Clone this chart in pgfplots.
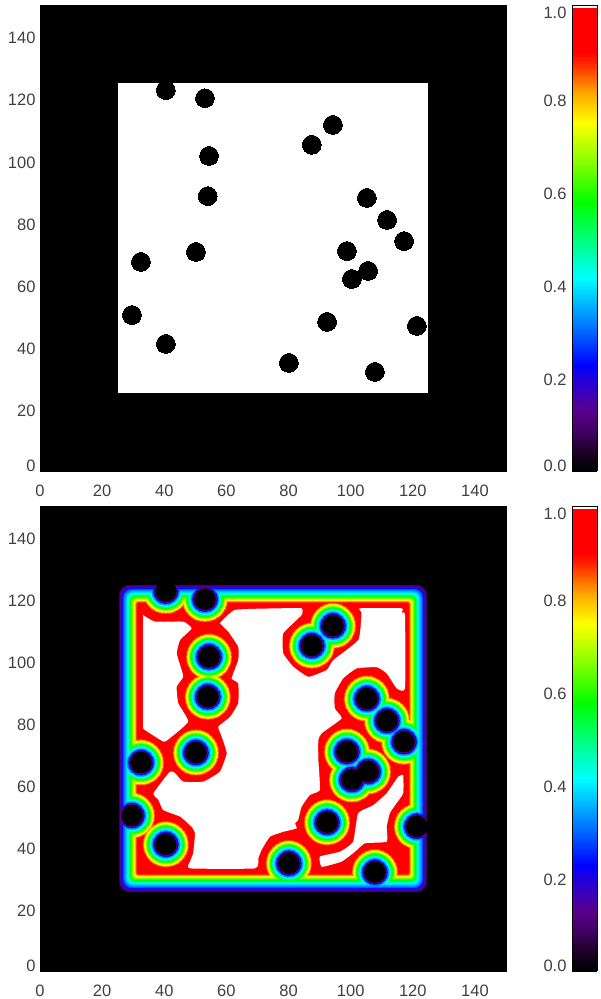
\documentclass[border=0pt]{standalone}
\usepackage{fontspec}
\setmainfont{Liberation Sans}
\usepackage{pgfplots}
\usepackage{pgfplotstable}
\pgfplotsset{compat=1.18}
\pgfplotstableread{
x y
40.5 122.6
53.1 120.0
54.4 101.4
54.0 88.5
94.3 111.4
87.5 105.0
105.2 87.9
111.7 80.8
117.2 74.0
98.8 70.8
50.2 70.5
32.5 67.3
105.6 64.4
100.4 61.8
29.6 50.2
92.4 48.0
121.3 46.7
40.5 40.9
80.1 34.8
107.8 31.9
}\blobs
\newcommand{\band}[5]{%
 \pgfmathsetmacro\lo{25+#5-1}\pgfmathsetmacro\hi{125-#5+1}%
 \pgfmathsetmacro\rc{(max(0.1,3.5-0.5*#5)+1)*3.107}%
 \pgfmathsetmacro\ms{#4*3.107}%
 \edef\tmp{\noexpand\addplot[draw={rgb,255:red,#1;green,#2;blue,#3},line width=6.2pt,line cap=rect,rounded corners=\rc pt,no markers,forget plot] coordinates {(75,\lo)(\hi,\lo)(\hi,\hi)(\lo,\hi)(\lo,\lo)(75,\lo)};
 \noexpand\addplot[only marks,mark=*,mark size=\ms pt,mark options={line width=0pt,draw={rgb,255:red,#1;green,#2;blue,#3},fill={rgb,255:red,#1;green,#2;blue,#3}},forget plot] table {\noexpand\blobs};}\tmp}
\pgfplotsset{
 colormap={idl}{rgb255(0)=(0,0,0) rgb255(40)=(25,0,35) rgb255(80)=(60,0,90) rgb255(130)=(90,0,140) rgb255(180)=(50,0,200) rgb255(228)=(0,0,255) rgb255(320)=(0,130,255) rgb255(415)=(0,255,255) rgb255(500)=(0,255,120) rgb255(578)=(0,255,0) rgb255(660)=(130,255,0) rgb255(748)=(255,255,0) rgb255(810)=(255,170,0) rgb255(880)=(255,30,0) rgb255(900)=(255,0,0) rgb255(993)=(255,0,0) rgb255(994)=(255,255,255) rgb255(1000)=(255,255,255)},
 panel/.style={
  scale only axis, width=466pt,
  xmin=0,xmax=150,ymin=0,ymax=150,
  axis on top,
  clip mode=individual,
  axis background/.style={fill=black},
  xtick={0,20,...,140}, ytick={0,20,...,140},
  yticklabels={\raisebox{7pt}[12pt][0pt]{0},20,40,60,80,100,120,140},
  tick style={draw=none},
  tick label style={font=\fontsize{16.5}{18}\selectfont,text=black!75},
  xticklabel style={yshift=-10pt},
  yticklabel style={xshift=-1pt,yshift=-2pt},
  /pgf/number format/assume math mode=true,
  colorbar, colorbar sampled,
  colormap name=idl,
  point meta min=0, point meta max=1,
  colorbar style={
   at={(1.1416,0)},anchor=south west,
   scale only axis,width=25pt,
   samples=200,
   ytick={0,0.2,0.4,0.6,0.8,1},
   yticklabel pos=left,
   yticklabels={\raisebox{5pt}[12pt][0pt]{0.0},\raisebox{-2pt}[12pt][0pt]{0.2},\raisebox{-2pt}[12pt][0pt]{0.4},\raisebox{-2pt}[12pt][0pt]{0.6},\raisebox{-2pt}[12pt][0pt]{0.8},\raisebox{-8pt}[12pt][0pt]{1.0}},
   tick style={draw=none},
   yticklabel style={xshift=-2pt,yshift=0pt},
   axis line style={black,line width=0.5pt},
  },
 }
}
\begin{document}
\begin{tikzpicture}[x=1pt,y=1pt]
\begin{axis}[panel,height=466pt,at={(40pt,528pt)},anchor=south west]
\addplot[fill=white,draw=none,forget plot] coordinates {(25,25)(125,25)(125,125)(25,125)} --cycle;
\addplot[only marks,mark=*,mark size=9.4pt,mark options={line width=0pt,draw=black,fill=black},forget plot] table {\blobs};
\end{axis}
\begin{axis}[panel,height=465pt,at={(40pt,28pt)},anchor=south west]
% red ground inside the window
\addplot[fill=red,draw=none,forget plot] coordinates {(29,29)(121,29)(121,121)(29,121)} --cycle;
% white plateaus where the mask reaches 1
\addplot[fill=white,draw=none,smooth,tension=0.25,forget plot] coordinates {(33.2,114.8)(37.0,112.7)(46.1,112.7)(48.8,110.5)(45.1,106.8)(44.0,102.5)(45.1,98.7)(46.1,94.9)(44.0,91.7)(44.5,86.4)(47.7,80.4)(41.3,74.7)(39.7,74.0)(33.8,77.7)(33.2,78.3)} --cycle;
\addplot[fill=white,draw=none,smooth,tension=0.25,forget plot] coordinates {(57.9,112.2)(62.8,116.5)(77.2,117.0)(84.2,117.0)(84.2,114.8)(78.3,108.9)(78.3,102.5)(81.5,98.2)(86.4,94.9)(92.3,97.1)(94.4,100.3)(102.5,106.8)(103.5,115.4)(103.0,117.0)(116.4,117.0)(116.4,115.4)(117.5,114.8)(117.5,91.2)(114.8,91.2)(111.6,96.0)(108.4,98.0)(101.9,97.6)(97.6,94.4)(94.9,89.6)(94.9,84.7)(97.1,81.5)(90.7,76.7)(89.6,74.5)(89.6,68.1)(90.1,58.4)(86.9,56.8)(84.2,53.0)(83.1,48.7)(82.1,47.6)(82.6,46.0)(78.3,44.9)(74.0,43.3)(71.3,39.0)(70.3,36.4)(69.2,33.1)(48.3,33.1)(48.3,35.3)(49.3,38.0)(49.9,44.4)(48.8,46.5)(45.1,49.8)(39.7,51.9)(38.1,55.2)(36.5,57.3)(41.8,64.3)(43.5,63.8)(46.1,61.1)(52.6,61.1)(57.9,64.3)(60.1,70.2)(58.5,75.6)(57.4,78.8)(61.2,82.0)(63.8,86.4)(63.8,92.8)(61.7,94.4)(63.8,100.3)(63.8,104.6)(60.6,109.5)} --cycle;
\addplot[fill=white,draw=none,smooth,tension=0.25,forget plot] coordinates {(115.3,62.7)(116.9,63.2)(116.9,57.3)(114.3,53.5)(112.6,50.9)(111.6,46.5)(111.6,41.7)(104.6,41.2)(101.4,38.5)(97.1,35.3)(90.7,33.6)(90.1,36.9)(96.6,38.5)(100.8,41.7)(102.4,50.9)(107.3,53.5)(111.6,57.3)} --cycle;
\band{255}{25}{0}{7.4}{6.3}
\band{255}{70}{0}{7.25}{6.1}
\band{255}{130}{0}{7.1}{5.95}
\band{255}{190}{0}{6.95}{5.75}
\band{255}{240}{0}{6.8}{5.6}
\band{215}{255}{0}{6.5}{5.35}
\band{165}{255}{0}{6.3}{5.1}
\band{110}{255}{0}{6.1}{4.85}
\band{50}{255}{0}{5.9}{4.6}
\band{0}{255}{20}{5.65}{4.3}
\band{0}{255}{90}{5.4}{4.05}
\band{0}{255}{160}{5.15}{3.8}
\band{0}{255}{225}{4.9}{3.5}
\band{0}{230}{255}{4.65}{3.2}
\band{0}{190}{255}{4.5}{2.85}
\band{0}{140}{255}{4.3}{2.5}
\band{0}{90}{255}{4.1}{2.15}
\band{0}{20}{255}{3.95}{1.75}
\band{30}{0}{230}{3.8}{1.5}
\band{70}{0}{180}{3.65}{1.25}
\band{85}{0}{135}{3.5}{0.95}
\band{60}{0}{90}{3.4}{0.7}
\band{25}{0}{35}{3.3}{0.5}
\band{0}{0}{0}{3.2}{0.3}
% black surround: everything beyond the outermost contour stays black
\addplot[draw=black,line width=37pt,line cap=rect,rounded corners=22pt,no markers,forget plot] coordinates {(75,19.4)(130.6,19.4)(130.6,130.6)(19.4,130.6)(19.4,19.4)(75,19.4)};
\end{axis}
\pgfresetboundingbox
\path[use as bounding box] (0,0) rectangle (600,999);
\end{tikzpicture}
\end{document}
